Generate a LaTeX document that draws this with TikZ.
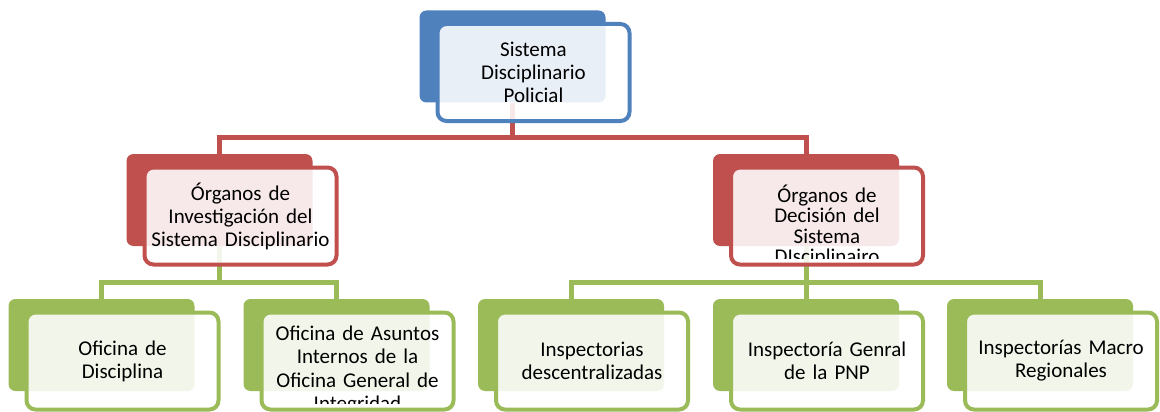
\documentclass[tikz,border=0pt]{standalone}
\usepackage{fontspec}
\setmainfont{Carlito}
\usetikzlibrary{positioning,backgrounds}
\definecolor{clrBlue}{RGB}{79,129,189}
\definecolor{clrRed}{RGB}{192,80,77}
\definecolor{clrGreen}{RGB}{155,187,89}
\tikzset{
  back/.style={rectangle,rounded corners=7pt,minimum width=186pt,minimum height=92pt,inner sep=0pt},
  backB/.style={back,fill=clrBlue},
  backR/.style={back,fill=clrRed},
  backG/.style={back,fill=clrGreen},
  front/.style={rectangle,rounded corners=9pt,line width=4pt,fill=white,fill opacity=0.88,text opacity=1,
    minimum width=192pt,minimum height=97pt,inner sep=0pt,text width=188pt,align=center,
    font=\fontsize{21}{23}\selectfont},
  frontB/.style={front,draw=clrBlue},
  frontR/.style={front,draw=clrRed},
  frontG/.style={front,draw=clrGreen},
  boxtext/.style={inner sep=0pt,text width=188pt,align=center,font=\fontsize{21}{23}\selectfont},
  link/.style={line width=5pt},
  linkR/.style={link,draw=clrRed},
  linkG/.style={link,draw=clrGreen}
}
\begin{document}
\begin{tikzpicture}[x=1pt,y=-1pt]
  \useasboundingbox (0,0) rectangle (1160,412);
  % top
  \node[backB] (topb) at (512.5,56.5) {};
  \node[frontB] (top) at (533.5,72.5) {Sistema\\Disciplinario\\Policial};
  % second level
  \node[backR] (invb) at (219.5,200) {};
  \node[frontR] (inv) at (240.5,216) {Órganos de\\Investigación del\\Sistema Disciplinario};
  \node[backR] (decb) at (806,200) {};
  \node[frontR] (dec) at (827,216) {};
  \begin{scope}
    \clip ([shift={(6,6)}]dec.north west) rectangle ([shift={(-6,-8.5)}]dec.south east);
    \node[boxtext,font=\fontsize{21}{20.5}\selectfont] (dec-t) at ([shift={(0,10)}]dec.center)
      {Órganos de\\Decisión del\\Sistema\\DIsciplinairo};
  \end{scope}
  % third level
  \node[backG] (discb) at (101.5,345) {};
  \node[frontG] (disc) at (122.5,361) {Oficina de\\Disciplina};
  \node[backG] (oaib) at (336.5,345) {};
  \node[frontG] (oai) at (357.5,361) {};
  \begin{scope}
    \clip ([shift={(6,6)}]oai.north west) rectangle ([shift={(-6,-8.5)}]oai.south east);
    \node[boxtext,font=\fontsize{21}{23.5}\selectfont] (oai-t) at ([shift={(0,9)}]oai.center)
      {Oficina de Asuntos\\Internos de la\\Oficina General de\\Integridad};
  \end{scope}
  \node[backG] (insdb) at (571,345) {};
  \node[frontG] (insd) at (592,361) {Inspectorias\\descentralizadas};
  \node[backG] (igb) at (806,345) {};
  \node[frontG] (ig) at (827,361) {Inspectoría Genral\\de la PNP};
  \node[backG] (imrb) at (1040,345) {};
  \node[frontG] (imr) at (1061,361) {Inspectorías Macro\\Regionales};
  % connectors
  \coordinate (busT) at (512.5,137);
  \coordinate (busI) at (219.5,282);
  \coordinate (busD) at (806,282);
  \begin{scope}[on background layer]
    \draw[linkR] (topb) -- (busT);
    \draw[linkR] (invb.north) |- (busT) -| (decb.north);
    \draw[linkG] (invb) -- (busI);
    \draw[linkG] (discb.north) |- (busI) -| (oaib.north);
    \draw[linkG] (decb) -- (busD);
    \draw[linkG] (insdb.north) |- (busD) -| (imrb.north);
    \draw[linkG] (busD) -- (igb.north);
  \end{scope}
\end{tikzpicture}
\end{document}
